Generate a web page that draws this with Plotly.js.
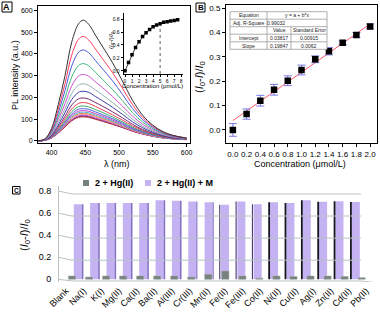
<!DOCTYPE html>
<html><head><meta charset="utf-8">
<script src="https://cdn.plot.ly/plotly-3.0.1.min.js"></script>
<style>html,body{margin:0;padding:0;background:#fff}#chart{width:380px;height:312px}</style>
</head><body><div id="chart"></div>
<script>
// ---------- Panel A: PL spectra ----------
const wavelengths = [380,390,400,410,420,430,440,447,455,465,475,490,505,520,535,550,565,580,600];
const plSpectra = [
[0,8,56,167,300,455,538,555,536,486,436,361,275,186,117,72,42,25,12],
[0,8,50,146,263,395,467,480,464,422,380,315,242,166,107,67,40,24,13],
[0,7,44,129,231,345,407,418,405,369,333,277,214,148,97,62,38,23,13],
[0,6,39,111,198,294,346,355,345,315,284,237,185,129,86,56,34,22,12],
[0,5,34,97,171,253,298,305,297,271,246,205,160,113,76,50,31,20,12],
[0,5,30,84,148,218,256,262,255,234,212,177,139,99,67,45,28,18,10],
[0,4,26,73,130,190,223,228,223,204,185,155,122,87,60,40,25,16,10],
[0,4,23,64,113,165,193,197,192,176,160,134,106,76,52,35,22,14,9],
[0,3,21,57,101,147,172,176,172,158,143,120,95,69,48,32,20,13,8],
[0,3,19,52,92,134,157,160,156,144,131,110,87,63,44,29,18,12,8],
[0,3,17,48,85,124,145,148,145,133,121,102,81,58,41,27,17,11,7],
[0,3,16,46,80,117,136,139,136,125,114,96,76,55,38,26,16,11,7],
[0,3,16,43,76,111,129,132,129,119,108,91,72,52,37,25,16,10,6],
[0,3,15,41,73,106,123,126,123,113,103,87,69,50,35,24,15,10,6],
[0,2,15,40,70,102,119,121,119,109,99,83,66,48,34,23,14,10,6],
[0,2,14,39,68,98,115,117,115,105,96,81,64,47,33,22,14,9,6],
[0,2,14,37,66,95,111,113,111,102,93,78,62,45,32,21,14,9,6],
[0,2,13,36,64,92,108,110,108,99,90,76,61,44,31,21,13,9,5]
];
const specColors = ['#333333','#ff3d5e','#4b5bdb','#3cb878','#d04fd0','#8fb2b2','#3d3da8','#7a2a6e',
  '#e8405a','#36a864','#5464e4','#c846c8','#46b4c8','#e08848','#ff88b8','#9458c8','#8a2448','#c82848'];
// inset
const insetConc = [0,0.5,1,1.5,2,2.5,3,3.5,4,4.5,5,5.5,6,6.5,7,7.5];
const insetRatio = [0,0.13,0.25,0.36,0.45,0.53,0.59,0.64,0.68,0.71,0.73,0.75,0.76,0.77,0.78,0.79];
const insetMarkIndex = 10; // concentration 5

// ---------- Panel B: linear range ----------
const concB = [0,0.2,0.4,0.6,0.8,1.0,1.2,1.4,1.6,1.8,2.0];
const ratioB = [0.0,0.065,0.12,0.165,0.202,0.246,0.29,0.323,0.358,0.39,0.425];
const errB = [0.026,0.021,0.022,0.022,0.02,0.02,0.014,0.015,0.008,0.01,0.01];
const fitIntercept = 0.03817;
const fitSlope = 0.19847;
const tableRows = [
  ['Equation','y = a + b*x',''],
  ['Adj. R-Square','0.99032',''],
  ['','Value','Standard Error'],
  ['Intercept','0.03817','0.00915'],
  ['Slope','0.19847','0.0062']
];

// ---------- Panel C: selectivity ----------
const ions = ['Blank','Na(I)','K(I)','Mg(II)','Ca(II)','Ba(II)','Al(III)','Cr(III)','Mn(II)','Fe(II)','Fe(III)','Co(II)','Ni(II)','Cu(II)','Ag(I)','Zn(II)','Cd(II)','Pb(II)'];
const hgOnly = [0.03,0.02,0.03,0.03,0.03,0.03,0.03,0.02,0.045,0.075,0.03,0.01,0.03,0.025,0.03,0.03,0.025,0.015];
const hgPlusM = [0.68,0.69,0.69,0.69,0.69,0.715,0.712,0.705,0.697,0.675,0.705,0.68,0.697,0.69,0.715,0.703,0.708,0.70];

// ---------- helpers (pixel -> paper) ----------
const W = 380, H = 312;
const px = v => v / W, py = v => 1 - v / H;
const FONT = 'Liberation Sans, Arial, sans-serif';

const traces = [];
for (let i = plSpectra.length - 1; i >= 0; i--) {
  traces.push({type:'scatter', mode:'lines', x: wavelengths, y: plSpectra[i], xaxis:'x', yaxis:'y',
    line:{color: specColors[i], width:1, shape:'spline', smoothing:1}, showlegend:false, hoverinfo:'skip'});
}
traces.push({type:'scatter', mode:'lines', xaxis:'x2', yaxis:'y2',
  x:[insetConc[insetMarkIndex], insetConc[insetMarkIndex]], y:[-0.05, insetRatio[insetMarkIndex]],
  line:{color:'#333', width:0.8, dash:'dot'}, showlegend:false, hoverinfo:'skip'});
traces.push({type:'scatter', mode:'lines+markers', x: insetConc, y: insetRatio, xaxis:'x2', yaxis:'y2',
  line:{color:'#000', width:0.8}, marker:{symbol:'square', size:3.5, color:'#000'}, showlegend:false});

// B
const fitX = [concB[0], concB[concB.length-1]];
traces.push({type:'scatter', mode:'lines', x: fitX, y: fitX.map(v => fitIntercept + fitSlope*v),
  xaxis:'x3', yaxis:'y3', line:{color:'#ff5a70', width:1}, showlegend:false, hoverinfo:'skip'});
traces.push({type:'scatter', mode:'markers', x: concB, y: ratioB, xaxis:'x3', yaxis:'y3',
  error_y:{type:'data', array: errB, visible:true, color:'#7676e6', thickness:1, width:4},
  marker:{symbol:'square', size:6.5, color:'#000'}, showlegend:false});

// C
const sideOffset = ions.map((_, i) => i <= 8 ? 0.245 : -0.355);
const sideWidth = ions.map((_, i) => i <= 6 ? 0.1 : (i <= 11 ? 0.07 : 0.11));
const sideColor = ions.map((_, i) => i <= 8 ? '#8470c4' : (i <= 11 ? '#4a3e72' : '#15151f'));
traces.push({type:'bar', x: ions, y: hgPlusM, xaxis:'x4', yaxis:'y4', name:'2 + Hg(II) + M',
  offset:-0.245, width:0.49, marker:{color:'#c5b2f3', line:{width:0}}, showlegend:false});
traces.push({type:'bar', x: ions, y: hgPlusM, xaxis:'x4', yaxis:'y4', name:'side',
  offset: sideOffset, width: sideWidth, marker:{color: sideColor, line:{width:0}}, showlegend:false, hoverinfo:'skip'});
traces.push({type:'bar', x: ions, y: hgOnly, xaxis:'x5', yaxis:'y4', name:'2 + Hg(II)',
  width:0.42, marker:{color:'#76807c', line:{color:'#a4aeaa', width:0.6}}, showlegend:false});
traces.push({type:'scatter', mode:'markers', x: ions, y: ions.map(() => 0), xaxis:'x6', yaxis:'y4',
  marker:{opacity:0, size:1}, showlegend:false, hoverinfo:'skip'});

const axBase = {showgrid:false, zeroline:false, automargin:false, showline:true, linecolor:'#000', linewidth:1,
  ticks:'outside', tickcolor:'#000', tickwidth:1};

const italicRatio = '(<i>I</i><sub>0</sub>-<i>I</i>)/<i>I</i><sub>0</sub>';

const layout = {
  width: W, height: H, margin:{l:0,r:0,t:0,b:0}, paper_bgcolor:'#fff', plot_bgcolor:'rgba(0,0,0,0)',
  font:{family: FONT, color:'#000'}, barmode:'overlay', showlegend:false,
  xaxis: Object.assign({}, axBase, {domain:[px(38), px(190)], range:[380,605], anchor:'y', mirror:true,
    tickvals:[400,450,500,550,600], ticklen:3, tickfont:{size:7}}),
  yaxis: Object.assign({}, axBase, {domain:[py(143), py(6)], range:[-10,620], anchor:'x', mirror:true,
    tickvals:[0,100,200,300,400,500,600], ticklen:3, tickfont:{size:7}}),
  xaxis2: Object.assign({}, axBase, {domain:[px(123.6), px(182.6)], range:[-0.2,8.2], anchor:'y2',
    tickvals:[0,1,2,3,4,5,6,7,8], ticklen:2, tickfont:{size:5}}),
  yaxis2: Object.assign({}, axBase, {domain:[py(74), py(13.3)], range:[-0.05,0.89], anchor:'x2',
    tickvals:[0,0.2,0.4,0.6,0.8], tickformat:'.1f', ticklen:2, tickfont:{size:5}}),
  xaxis3: Object.assign({}, axBase, {domain:[px(226), px(377)], range:[-0.1,2.1], anchor:'y3', mirror:true,
    tickvals: concB, tickformat:'.1f', ticklen:3, tickfont:{size:8}}),
  yaxis3: Object.assign({}, axBase, {domain:[py(143.3), py(4.5)], range:[-0.055,0.515], anchor:'x3', mirror:true,
    tickvals:[0,0.1,0.2,0.3,0.4,0.5], tickformat:'.1f', ticklen:3, tickfont:{size:8}}),
  yaxis4: {domain:[py(282), py(186)], range:[-0.0245,0.845], anchor:'free', position: px(58),
    showgrid:false, zeroline:false, automargin:false, showline:true, linecolor:'#b9c2c2', linewidth:1,
    ticks:'outside', ticklen:5, tickcolor:'rgba(0,0,0,0)', tickvals:[0,0.2,0.4,0.6,0.8], ticktext:['0','0.2','0.4','0.6','0.8'],
    tickfont:{size:9}},
  xaxis4: {domain:[px(69.6), px(364)], range:[-0.5,17.5], anchor:'y4', type:'category', visible:false},
  xaxis5: {domain:[px(63.5), px(370.2)], range:[-0.5,17.5], anchor:'y4', type:'category', visible:false},
  xaxis6: {domain:[px(57.2), px(375.1)], range:[-0.5,17.5], anchor:'free', position: py(283), type:'category',
    showgrid:false, zeroline:false, showline:false, ticks:'', tickangle:-45, tickfont:{size:9}, automargin:false},
  shapes: [], annotations: []
};

// Axis titles (placed as text at the reference positions)
function title(x, y, t, size, angle) {
  layout.annotations.push({xref:'paper', yref:'paper', x:px(x), y:py(y), text:t, showarrow:false,
    xanchor:'center', yanchor:'middle', textangle: angle || 0, font:{size:size}});
}
title(117, 164, 'λ (nm)', 9);
title(15, 75, 'PL intensity (a.u.)', 9, -90);
title(152.7, 85.5, 'Concentration (μmol/L)', 6);
title(111, 40, italicRatio, 6, -90);
title(300, 164, 'Concentration (μmol/L)', 9);
title(200, 77, italicRatio, 11, -90);
title(25, 235, italicRatio, 11, -90);

// Panel letters
function letterBox(x0, y0, s, t) {
  layout.shapes.push({type:'rect', xref:'paper', yref:'paper', x0:px(x0), x1:px(x0+s), y0:py(y0+s), y1:py(y0),
    line:{color:'#000', width:1}, fillcolor:'#fff'});
  layout.annotations.push({xref:'paper', yref:'paper', x:px(x0+s/2), y:py(y0+s/2), text:'<b>'+t+'</b>',
    showarrow:false, font:{size:s-1}, xanchor:'center', yanchor:'middle'});
}
letterBox(2, 2, 10, 'A');
letterBox(196, 3, 9, 'B');
letterBox(12.5, 186.5, 7.5, 'C');

// Table in B
const tL = 230, tR = 327, c1 = 267, c2 = 291;
const rowsY = [11.7, 19.2, 26.7, 34.2, 41.8, 49.3];
layout.shapes.push({type:'rect', xref:'paper', yref:'paper', x0:px(tL), x1:px(tR), y0:py(rowsY[5]), y1:py(rowsY[0]),
  line:{color:'#9a9a9a', width:0.8}, fillcolor:'#fff'});
for (let r = 1; r < 5; r++) layout.shapes.push({type:'line', xref:'paper', yref:'paper', x0:px(tL), x1:px(tR),
  y0:py(rowsY[r]), y1:py(rowsY[r]), line:{color:'#9a9a9a', width:0.8}});
layout.shapes.push({type:'line', xref:'paper', yref:'paper', x0:px(c1), x1:px(c1), y0:py(rowsY[0]), y1:py(rowsY[5]), line:{color:'#9a9a9a', width:0.8}});
layout.shapes.push({type:'line', xref:'paper', yref:'paper', x0:px(c2), x1:px(c2), y0:py(rowsY[2]), y1:py(rowsY[5]), line:{color:'#9a9a9a', width:0.8}});
tableRows.forEach((row, r) => {
  const yc = py((rowsY[r] + rowsY[r+1]) / 2);
  const cx = [(tL + c1) / 2, r < 2 ? (r === 0 ? (c1 + tR) / 2 : c1 + 8.5) : (c1 + c2) / 2, (c2 + tR) / 2];
  row.forEach((t, c) => { if (t) layout.annotations.push({xref:'paper', yref:'paper', x:px(cx[c]), y:yc, text:t,
    showarrow:false, font:{size:5, color:'#222'}, xanchor:'center', yanchor:'middle'}); });
});

// Panel C back wall grid & floor
const gridC = '#b9c2c2';
[0.2,0.4,0.6,0.8].forEach(v => {
  layout.shapes.push({type:'line', xref:'paper', yref:'y4', x0:px(58), x1:px(72), y0:v, y1:v-0.027, line:{color:gridC, width:1}});
  layout.shapes.push({type:'line', xref:'paper', yref:'y4', x0:px(72), x1:px(361), y0:v-0.027, y1:v-0.027, line:{color:gridC, width:1}});
});
layout.shapes.push({type:'line', xref:'paper', yref:'y4', x0:px(58), x1:px(72), y0:0.0, y1:-0.015, line:{color:gridC, width:1}});
layout.shapes.push({type:'line', xref:'paper', yref:'y4', x0:px(72), x1:px(361), y0:-0.015, y1:-0.015, line:{color:gridC, width:1}});
layout.shapes.push({type:'line', xref:'paper', yref:'y4', x0:px(361), x1:px(375), y0:-0.015, y1:-0.03, line:{color:gridC, width:1}});

// Legend C
layout.shapes.push({type:'rect', xref:'paper', yref:'paper', x0:px(83), x1:px(89), y0:py(186), y1:py(180), fillcolor:'#76807c', line:{width:0}});
layout.shapes.push({type:'rect', xref:'paper', yref:'paper', x0:px(145), x1:px(151), y0:py(186), y1:py(180), fillcolor:'#c5b2f3', line:{width:0}});
layout.annotations.push({xref:'paper', yref:'paper', x:px(93), y:py(183), text:'<b>2 + Hg(II)</b>', showarrow:false, xanchor:'left', yanchor:'middle', font:{size:9}});
layout.annotations.push({xref:'paper', yref:'paper', x:px(155), y:py(183), text:'<b>2 + Hg(II) + M</b>', showarrow:false, xanchor:'left', yanchor:'middle', font:{size:9}});

Plotly.newPlot('chart', traces, layout, {displayModeBar:false, staticPlot:true});
</script></body></html>
